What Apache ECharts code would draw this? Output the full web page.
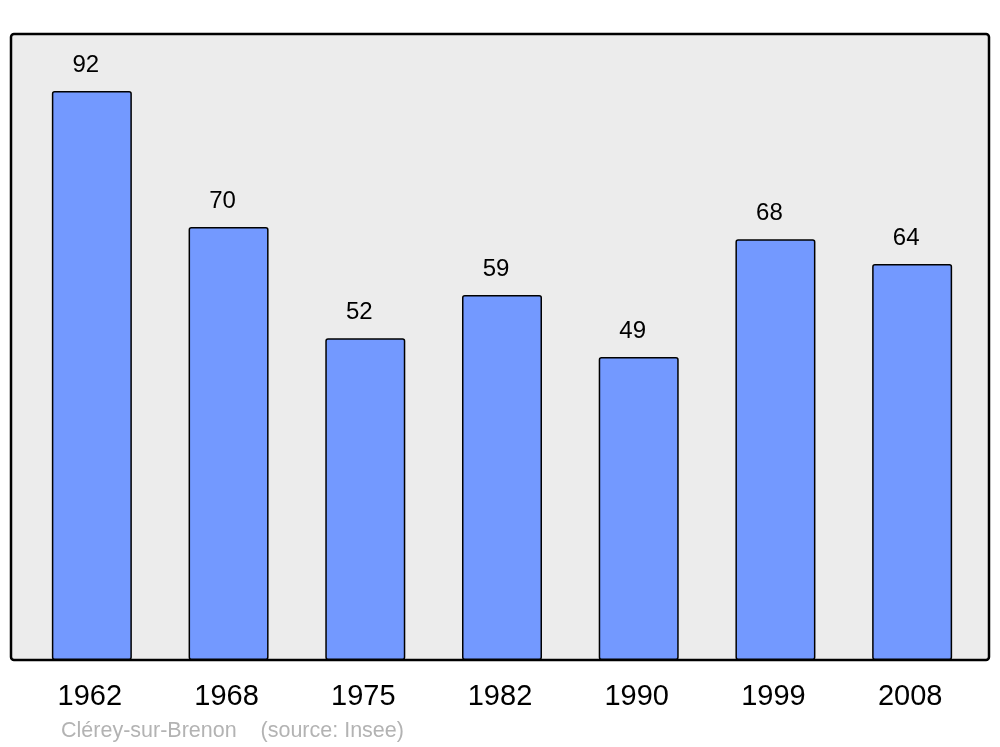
<!DOCTYPE html>
<html>
<head>
<meta charset="utf-8">
<script src="https://cdn.jsdelivr.net/npm/echarts@6/dist/echarts.min.js"></script>
<style>html,body{margin:0;padding:0;background:#fff}#c{width:1000px;height:747px}</style>
</head>
<body>
<div id="c"></div>
<script>
const years = ['1962', '1968', '1975', '1982', '1990', '1999', '2008'];
const population = [92, 70, 52, 59, 49, 68, 64];
const footerText = 'Clérey-sur-Brenon    (source: Insee)';

const chart = echarts.init(document.getElementById('c'), null, {renderer: 'canvas'});
chart.setOption({
  animation: false,
  backgroundColor: '#ffffff',
  textStyle: {fontFamily: 'Liberation Sans, Arial, sans-serif'},
  graphic: [
    {type: 'rect', z: -10, shape: {x: 11, y: 34, width: 978, height: 626, r: 3},
     style: {fill: '#ececec', stroke: '#000000', lineWidth: 2.5}},
    {type: 'text', left: 61, top: 720,
     style: {text: footerText, fill: '#b3b3b3', font: '21.5px "Liberation Sans", Arial, sans-serif'}}
  ],
  grid: {left: 23.5, right: 19.5, top: 34, bottom: 87},
  xAxis: {
    type: 'category', data: years,
    axisLine: {show: false}, axisTick: {show: false},
    axisLabel: {color: '#000', fontSize: 29, margin: 22, padding: [0, 4, 0, 0], fontFamily: 'Liberation Sans'}
  },
  yAxis: {type: 'value', min: 0, max: 101.2, show: false, splitLine: {show: false}},
  series: [{
    type: 'bar', data: population, barWidth: 80,
    itemStyle: {color: '#7399ff', borderColor: '#000', borderWidth: 1.5, borderRadius: 2},
    label: {show: true, position: 'top', distance: 14, offset: [-6, 0], color: '#000', fontSize: 24, fontFamily: 'Liberation Sans'}
  }]
});
</script>
</body>
</html>
